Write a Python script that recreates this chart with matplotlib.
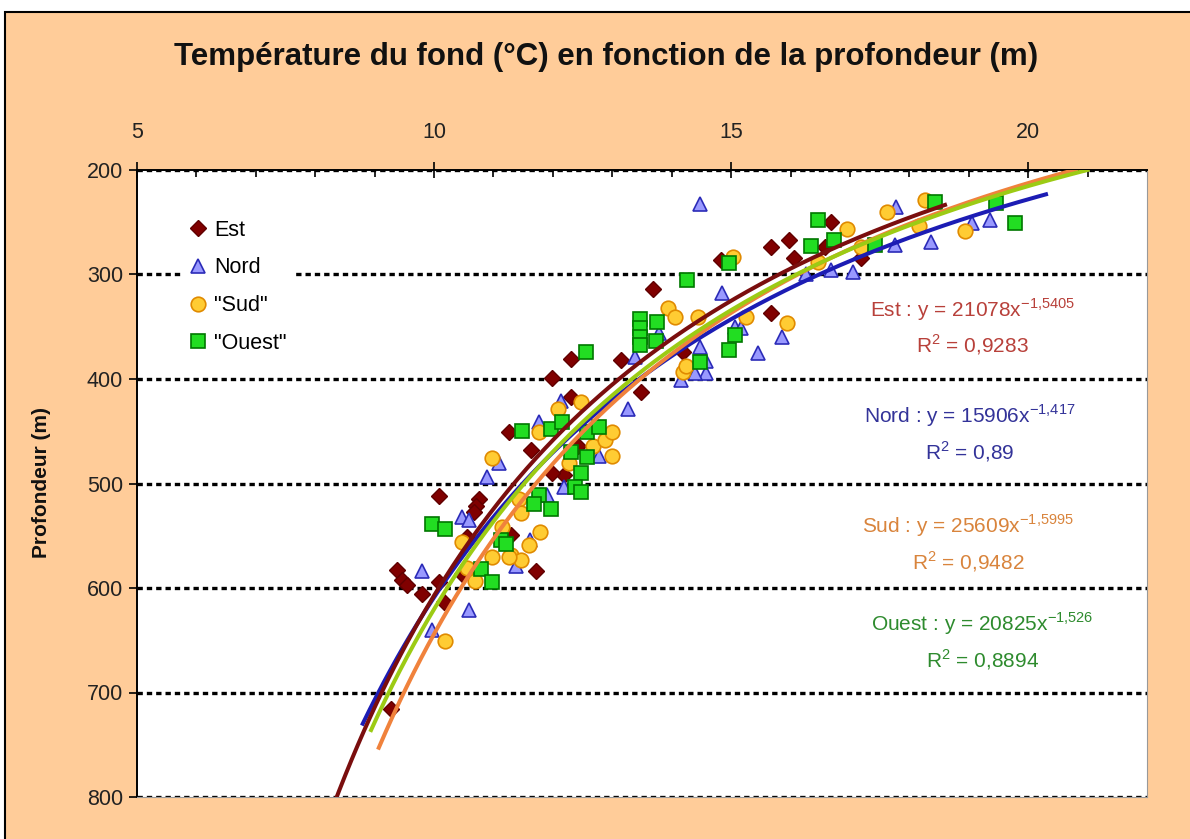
import numpy as np
import matplotlib
matplotlib.use('Agg')
from matplotlib import pyplot as plt
from matplotlib import font_manager
from matplotlib.patches import Rectangle

names = {f.name for f in font_manager.fontManager.ttflist}
fam = 'Liberation Sans Narrow' if 'Liberation Sans Narrow' in names else 'Liberation Sans'
plt.rcParams['font.family'] = [fam, 'DejaVu Sans']

# données (température °C, profondeur m)
est_temp = [9.28, 9.38, 9.46, 9.55, 9.80, 10.08, 10.17, 10.08, 10.75, 10.70,
            10.67, 10.55, 10.47, 11.26, 11.29, 11.64, 11.71, 11.98, 12.30, 12.30,
            12.43, 12.18, 11.98, 13.15, 13.49, 13.69, 14.19, 14.83, 15.67, 15.97,
            16.06, 15.67, 16.68, 16.58, 17.18]
est_prof = [716, 583, 592, 597, 606, 594, 613, 512, 515, 522,
            527, 551, 587, 451, 549, 468, 584, 399, 381, 417,
            464, 492, 490, 382, 412, 314, 374, 286, 274, 267,
            284, 337, 250, 274, 284]

nord_temp = [9.97, 9.80, 10.59, 10.47, 10.59, 10.89, 11.09, 11.38, 11.61, 11.90,
             11.76, 12.13, 12.18, 12.77, 13.27, 13.39, 13.78, 14.48, 14.58, 14.58,
             14.40, 14.16, 14.48, 14.85, 15.07, 15.17, 15.45, 15.86, 16.26, 16.68,
             17.05, 17.75, 17.77, 18.36, 19.06, 19.35]
nord_prof = [640, 584, 621, 532, 535, 494, 480, 579, 554, 511,
             441, 421, 503, 474, 429, 379, 356, 369, 383, 394,
             394, 401, 233, 318, 350, 351, 375, 360, 300, 296,
             298, 272, 235, 269, 251, 248]

sud_temp = [10.18, 10.55, 10.69, 10.47, 10.97, 11.14, 10.97, 11.29, 11.46, 11.43,
            11.46, 11.78, 11.59, 11.26, 11.76, 12.08, 12.48, 12.27, 12.68, 12.87,
            12.99, 12.99, 13.94, 14.06, 14.45, 14.19, 14.24, 15.03, 15.25, 15.94,
            16.46, 16.95, 17.18, 17.63, 18.17, 18.26, 18.94]
sud_prof = [651, 581, 593, 556, 476, 542, 570, 568, 573, 515,
            528, 546, 559, 570, 451, 429, 422, 480, 464, 458,
            451, 474, 332, 341, 341, 393, 388, 283, 341, 346,
            288, 256, 274, 240, 254, 229, 258]

ouest_temp = [9.97, 10.18, 10.79, 10.97, 11.12, 11.21, 11.48, 11.76, 11.68, 11.96,
              11.96, 12.15, 12.57, 12.77, 12.30, 12.57, 12.47, 12.38, 12.48, 12.55,
              13.47, 13.47, 13.47, 13.47, 13.76, 13.74, 14.26, 14.48, 14.97, 15.07,
              14.97, 16.34, 16.46, 16.74, 17.43, 18.44, 19.45, 19.77]
ouest_prof = [539, 544, 582, 594, 554, 558, 450, 511, 520, 524,
              448, 441, 451, 446, 470, 475, 490, 503, 508, 374,
              343, 351, 360, 367, 345, 364, 305, 384, 372, 358,
              289, 273, 248, 267, 272, 231, 232, 251]

# courbes de tendance : y = a * x^b
trend_a = [21078, 15906, 25609, 20825]
trend_b = ['-1,5405', '-1,417', '-1,5995', '-1,526']
trend_r2 = ['0,9283', '0,89', '0,9482', '0,8894']
trend_xmin = [8.3, 8.8, 9.07, 8.94]
trend_xmax = [18.6, 20.3, 20.8, 21.0]

noms = ['Est', 'Nord', 'Sud', 'Ouest']
legendes = ['Est', 'Nord', '"Sud"', '"Ouest"']

peach = '#FFCC99'
fig = plt.figure(figsize=(11.9, 8.39), dpi=100)
fig.patch.set_facecolor('white')
fig.add_artist(Rectangle((5 / 1190, -0.1), 1.2, 1 - 12 / 839 + 0.1, transform=fig.transFigure,
                         facecolor=peach, edgecolor='black', lw=1.5, zorder=-10))

ax = fig.add_axes([137 / 1190, 1 - 797 / 839, 1010 / 1190, 627 / 839])
ax.set_facecolor('white')

ax.plot(est_temp, est_prof, 'D', ms=8.5, mfc='#800000', mec='#600000', mew=1, ls='none', label=legendes[0], zorder=2)
ax.plot(nord_temp, nord_prof, '^', ms=10.5, mfc='#9999FF', mec='#2B2BB8', mew=1.2, ls='none', label=legendes[1], zorder=2)
ax.plot(sud_temp, sud_prof, 'o', ms=10.5, mfc='#FFCC33', mec='#E08A00', mew=1.2, ls='none', label=legendes[2], zorder=2)
ax.plot(ouest_temp, ouest_prof, 's', ms=10.5, mfc='#22DD22', mec='#007700', mew=1.2, ls='none', label=legendes[3], zorder=2)

line_cols = ['#7A0E0E', '#1C1CB4', '#F0823C', '#9CCB14']
ordre = [1, 2, 3, 0]
for i in ordre:
    b = float(trend_b[i].replace(',', '.'))
    xs = np.linspace(trend_xmin[i], trend_xmax[i], 200)
    ax.plot(xs, trend_a[i] * xs ** b, color=line_cols[i], lw=2.9, zorder=3)

# équations
txt_cols = ['#B8403A', '#333399', '#D9843C', '#2E8B2E']
txt_pos = [(19.06, 350), (19.02, 452), (18.99, 557), (19.23, 651)]
for i in range(4):
    expo = trend_b[i].replace(',', '{,}')
    s = (noms[i] + ' : y = ' + str(trend_a[i]) + 'x$^{\\mathregular{' + expo + '}}$'
         + '\nR$^{\\mathregular{2}}$ = ' + trend_r2[i])
    ax.text(txt_pos[i][0], txt_pos[i][1], s, color=txt_cols[i], fontsize=15, ha='center', va='center',
            multialignment='center', linespacing=1.5, zorder=4)

ax.set_xlim(5, 22)
ax.set_ylim(800, 200)
ax.xaxis.tick_top()
ax.set_xticks([5, 10, 15, 20])
ax.set_xticks(np.arange(6, 22, 1), minor=True)
ax.set_yticks(np.arange(200, 801, 100))
ax.tick_params(axis='x', which='major', direction='inout', length=11, width=1.2, labelsize=15.5, pad=14)
ax.tick_params(axis='x', which='minor', direction='in', length=5, width=1.2)
ax.tick_params(axis='y', which='major', direction='out', length=6, width=1.2, labelsize=15.5, pad=4)
for lab in ax.get_xticklabels() + ax.get_yticklabels():
    lab.set_color('#222222')

ax.grid(axis='y', color='black', ls=(0, (1.6, 1.2)), lw=2.4)
ax.set_axisbelow(True)
ax.spines['top'].set_color('black')
ax.spines['top'].set_linewidth(1.4)
ax.spines['left'].set_color('black')
ax.spines['left'].set_linewidth(1.4)
ax.spines['right'].set_color('#999999')
ax.spines['bottom'].set_color('#999999')

leg = ax.legend(loc='upper left', bbox_to_anchor=(0.035, 0.95), fontsize=15.5, frameon=True, fancybox=False,
                facecolor='white', edgecolor='white', framealpha=1, handlelength=0.7, handletextpad=0.4,
                labelspacing=0.78, borderpad=0.35)
leg.set_zorder(5)

fig.text(606 / 1190, 1 - 57 / 839, 'Température du fond (°C) en fonction de la profondeur (m)',
         ha='center', va='center', fontsize=22.5, fontweight='bold', color='#111111')
fig.text(42 / 1190, 1 - 482 / 839, 'Profondeur (m)', rotation=90, ha='center', va='center',
         fontsize=15, fontweight='bold', color='#111111')

fig.savefig('out.png', dpi=100, facecolor=fig.get_facecolor())
